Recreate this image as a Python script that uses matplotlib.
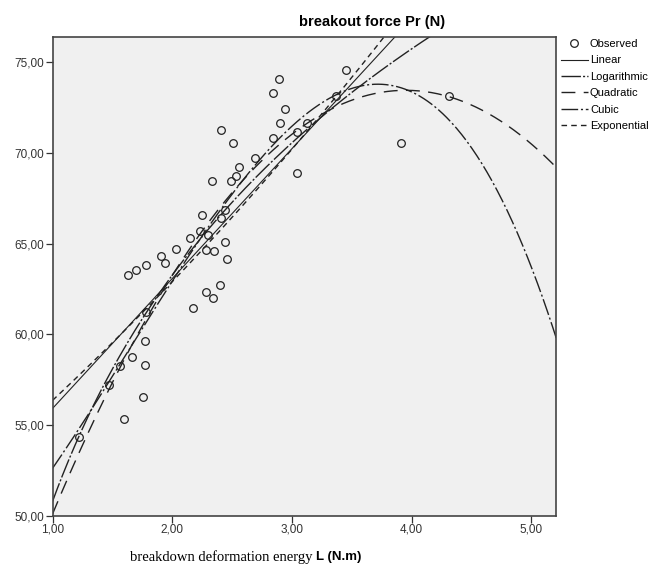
import numpy as np
import matplotlib
matplotlib.use("Agg")
import matplotlib.pyplot as plt

# breakdown deformation energy L (N.m)
energy = [1.22, 1.47, 1.56, 1.60, 1.63, 1.66, 1.70, 1.76, 1.77, 1.77, 1.78, 1.78,
          1.91, 1.94, 2.03, 2.15, 2.17, 2.23, 2.25, 2.28, 2.28, 2.30, 2.33, 2.34,
          2.35, 2.40, 2.41, 2.41, 2.44, 2.44, 2.46, 2.49, 2.51, 2.53, 2.56, 2.69,
          2.84, 2.84, 2.89, 2.90, 2.94, 3.04, 3.04, 3.13, 3.37, 3.45, 3.91, 4.31]
# breakout force Pr (N)
force = [54.31, 57.20, 58.26, 55.31, 63.24, 58.72, 63.53, 56.52, 59.62, 58.30, 61.20, 63.81,
         64.33, 63.93, 64.70, 65.33, 61.42, 65.68, 66.56, 62.32, 64.66, 65.46, 68.45, 62.01,
         64.61, 62.72, 71.26, 66.43, 65.06, 66.84, 64.14, 68.45, 70.55, 68.73, 69.19, 69.74,
         73.27, 70.84, 74.06, 71.65, 72.44, 71.15, 68.86, 71.67, 73.14, 74.55, 70.55, 73.14]

xticks = [1, 2, 3, 4, 5]
yticks = [50, 55, 60, 65, 70, 75]

x = np.array(energy)
y = np.array(force)
xs = np.linspace(1.0, 5.21, 400)

# curve estimation fits (as in SPSS)
lin = np.polyval(np.polyfit(x, y, 1), xs)
b_log = np.polyfit(np.log(x), y, 1)
logc = b_log[0] * np.log(xs) + b_log[1]
quad = np.polyval(np.polyfit(x, y, 2), xs)
cub = np.polyval(np.polyfit(x, y, 3), xs)
b_exp = np.polyfit(x, np.log(y), 1)
expc = np.exp(b_exp[1] + b_exp[0] * xs)

fig = plt.figure(figsize=(6.58, 5.69), dpi=100)
ax = fig.add_axes([0.0798, 0.0938, 0.7659, 0.8417])
ax.set_facecolor('#f0f0f0')

ax.plot(x, y, 'o', mfc='none', mec='#222222', ms=5.5, mew=0.9, label='Observed', zorder=5)
ax.plot(xs, lin, color='#222222', lw=0.8, label='Linear')
ax.plot(xs, logc, color='#222222', lw=1.0, dashes=(14, 1.5, 1.5, 1.5), label='Logarithmic')
ax.plot(xs, quad, color='#222222', lw=1.0, dashes=(10, 6), label='Quadratic')
ax.plot(xs, cub, color='#222222', lw=1.0, dashes=(12, 2, 1.5, 2), label='Cubic')
ax.plot(xs, expc, color='#222222', lw=1.0, dashes=(4, 3), label='Exponential')

ax.set_xlim(1.0, 5.21)
ax.set_ylim(50.0, 76.4)
ax.set_xticks(xticks)
ax.set_yticks(yticks)
ax.set_xticklabels([('%.2f' % t).replace('.', ',') for t in xticks])
ax.set_yticklabels([('%.2f' % t).replace('.', ',') for t in yticks])
ax.tick_params(direction='out', length=5, width=0.9, color='#333333',
               labelsize=8.5, labelcolor='#333333', pad=1)
for lab in ax.get_xticklabels() + ax.get_yticklabels():
    lab.set_family('Liberation Sans')
for s in ax.spines.values():
    s.set_color('#444444')
    s.set_linewidth(1.2)

leg = ax.legend(loc='upper left', bbox_to_anchor=(561 / 658, 1 - 39 / 569),
                bbox_transform=fig.transFigure, frameon=False,
                prop={'family': 'Liberation Sans', 'size': 8},
                handlelength=2.4, handletextpad=0.2, labelspacing=0.58,
                borderaxespad=0, borderpad=0)

fig.text(372 / 658, 1 - 22 / 569, 'breakout force Pr (N)', ha='center', va='center',
         fontsize=10.5, fontweight='bold', family='Liberation Sans')

t1 = fig.text(130 / 658, 1 - 557 / 569, 'breakdown deformation energy ', ha='left',
              va='center', fontsize=10.5, family='Liberation Serif')
fig.canvas.draw()
bb = t1.get_window_extent()
fig.text(bb.x1 / fig.bbox.width, 1 - 557 / 569, 'L (N.m)', ha='left', va='center',
         fontsize=9.5, fontweight='bold', family='Liberation Sans')

fig.savefig('out.png', dpi=100)
